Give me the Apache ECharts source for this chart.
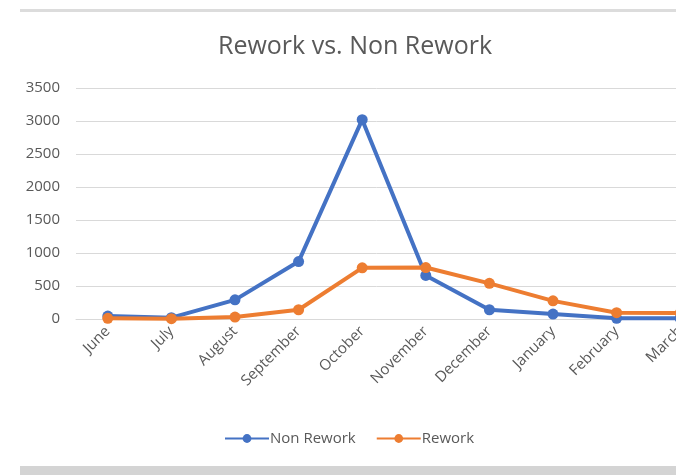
<!DOCTYPE html>
<html><head><meta charset="utf-8">
<script src="https://cdn.jsdelivr.net/npm/echarts@6/dist/echarts.min.js"></script>
<style>html,body{margin:0;padding:0;background:#fff;}#c{width:676px;height:475px;}</style>
</head><body><div id="c"></div>
<script>
const categories = ['June','July','August','September','October','November','December','January','February','March'];
const nonRework = [45, 20, 290, 870, 3020, 660, 140, 75, 10, 10];
const rework = [10, 5, 30, 140, 775, 780, 540, 275, 95, 90];
const yTicks = [0, 500, 1000, 1500, 2000, 2500, 3000, 3500];

const chart = echarts.init(document.getElementById('c'), null, {renderer:'canvas'});
const font = '"Open Sans", sans-serif';
chart.setOption({
  animation: false,
  backgroundColor: '#fff',
  title: {text: 'Rework vs. Non Rework', left: 350, top: 29, textAlign: 'center',
    textStyle: {fontFamily: font, fontSize: 25, fontWeight: 'normal', color: '#595959'}},
  legend: {top: 426, left: 219, itemWidth: 44, itemHeight: 11, itemGap: 20,
    textStyle: {fontFamily: font, fontSize: 15, color: '#595959', padding:[0,0,0,-4]},
    data: ['Non Rework','Rework']},
  grid: {left: 76, width: 636, top: 88, height: 231, containLabel: false, outerBoundsMode: 'none'},
  xAxis: {type: 'category', data: categories, boundaryGap: true,
    axisLine: {lineStyle: {color: '#d9d9d9'}}, axisTick: {show: false},
    axisLabel: {rotate: 45, fontFamily: font, fontSize: 15, color: '#595959', margin: 10, interval: 0}},
  yAxis: {type: 'value', min: yTicks[0], max: yTicks[yTicks.length-1], interval: 500,
    axisLine: {show: false}, axisTick: {show: false},
    axisLabel: {fontFamily: font, fontSize: 15, color: '#595959', margin: 16, formatter: v => String(v)},
    splitLine: {lineStyle: {color: '#d9d9d9', width: 1}}},
  graphic: [
    {type: 'rect', shape: {x: 20, y: 9, width: 656, height: 3}, style: {fill: '#dcdcdc'}},
    {type: 'rect', shape: {x: 20, y: 466, width: 656, height: 9}, style: {fill: '#d4d4d4'}}
  ],
  series: [
    {name: 'Non Rework', type: 'line', data: nonRework, color: '#4472C4',
      symbol: 'circle', symbolSize: 11, lineStyle: {width: 4}, z: 3},
    {name: 'Rework', type: 'line', data: rework, color: '#ED7D31',
      symbol: 'circle', symbolSize: 11, lineStyle: {width: 4}, z: 4}
  ]
});
</script></body></html>
